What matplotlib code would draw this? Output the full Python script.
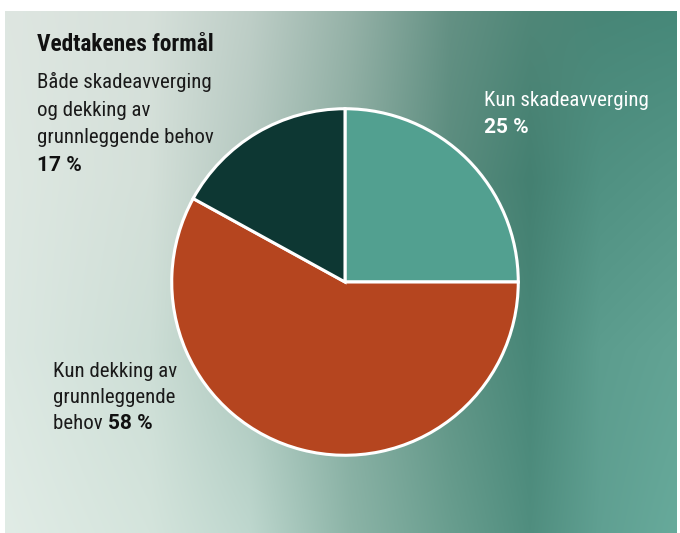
import numpy as np
import matplotlib
matplotlib.use("Agg")
import matplotlib.pyplot as plt
from matplotlib import font_manager

# ---- data ----
categories = ["Kun skadeavverging", "Kun dekking av grunnleggende behov",
              "Både skadeavverging og dekking av grunnleggende behov"]
shares = [25, 58, 17]
colors = ["#52a090", "#b5451f", "#0d3733"]
title = "Vedtakenes formål"

W, H = 680, 533
fig = plt.figure(figsize=(W / 100, H / 100), dpi=100)
fig.patch.set_facecolor("white")

# ---- background gradient panel ----
px0, px1, py0, py1 = 5, 677, 11, 533
xs = np.array([5, 150, 250, 350, 450, 530, 600, 677], float)
ys = np.array([11, 180, 350, 533], float)
grid = np.array([
    [(222,230,225),(214,224,218),(190,206,199),(150,178,168),(100,145,132),(80,135,120),(72,134,119),(70,136,121)],
    [(222,232,226),(212,224,217),(180,200,192),(138,172,160),(90,140,126),(68,128,113),(80,145,130),(85,150,135)],
    [(220,232,226),(205,222,214),(172,199,189),(132,172,160),(95,148,133),(72,135,120),(92,157,142),(98,163,148)],
    [(225,236,230),(212,228,220),(190,215,206),(140,180,167),(105,158,143),(80,142,127),(96,160,146),(103,170,155)],
], float) / 255.0
gx = np.arange(px0, px1) + 0.5
gy = np.arange(py0, py1) + 0.5
img = np.zeros((len(gy), len(gx), 3))
for c in range(3):
    tmp = np.array([np.interp(gx, xs, grid[r, :, c]) for r in range(len(ys))])
    img[:, :, c] = np.array([np.interp(gy, ys, tmp[:, j]) for j in range(len(gx))]).T
bg = fig.add_axes([px0 / W, 1 - py1 / H, (px1 - px0) / W, (py1 - py0) / H])
bg.imshow(img, aspect="auto", interpolation="bilinear")
bg.axis("off")

# ---- pie ----
cx, cy, r = 345, 282, 175
ax = fig.add_axes([(cx - r) / W, 1 - (cy + r) / H, 2 * r / W, 2 * r / H])
ax.pie(shares, colors=colors, startangle=90, counterclock=False,
       wedgeprops=dict(edgecolor="white", linewidth=2.2))
ax.set_xlim(-1.01, 1.01)
ax.set_ylim(-1.01, 1.01)
ax.set_aspect("equal")
ax.axis("off")

# ---- text ----
avail = {f.name for f in font_manager.fontManager.ttflist}
if "Roboto Condensed" in avail:
    fam = ["Roboto Condensed", "DejaVu Sans"]
    fs, fs_title = 15.0, 16.8
else:
    fam = ["Lato", "DejaVu Sans"]
    fs, fs_title = 13.6, 15.0
famb = ["Roboto", "DejaVu Sans"]
fsb = 15.0
dark = "#1a1a1a"

def P(x, y):
    return x / W, 1 - y / H

fig.text(*P(37, 51), title, fontsize=fs_title, fontweight="bold", family=fam,
         color="#111111", va="baseline", ha="left")

lab_both = ["Både skadeavverging", "og dekking av", "grunnleggende behov"]
for i, line in enumerate(lab_both):
    fig.text(*P(37, 88 + 27.7 * i), line, fontsize=fs, family=fam,
             color=dark, va="baseline", ha="left")
fig.text(*P(37, 171), f"{shares[2]} %", fontsize=fsb, fontweight="bold",
         family=famb, color="#111111", va="baseline", ha="left")

fig.text(*P(484, 106), "Kun skadeavverging", fontsize=fs, family=fam,
         color="white", va="baseline", ha="left")
fig.text(*P(484, 133), f"{shares[0]} %", fontsize=fsb, fontweight="bold",
         family=famb, color="white", va="baseline", ha="left")

fig.text(*P(53, 377), "Kun dekking av", fontsize=fs, family=fam,
         color=dark, va="baseline", ha="left")
fig.text(*P(53, 403), "grunnleggende", fontsize=fs, family=fam,
         color=dark, va="baseline", ha="left")
t = fig.text(*P(53, 429), "behov ", fontsize=fs, family=fam,
             color=dark, va="baseline", ha="left")
fig.canvas.draw()
bb = t.get_window_extent()
fig.text(bb.x1 / W + 1 / W, 1 - 429 / H, f"{shares[1]} %", fontsize=fsb,
         fontweight="bold", family=famb, color="#111111", va="baseline", ha="left")

fig.savefig("out.png", dpi=100)
